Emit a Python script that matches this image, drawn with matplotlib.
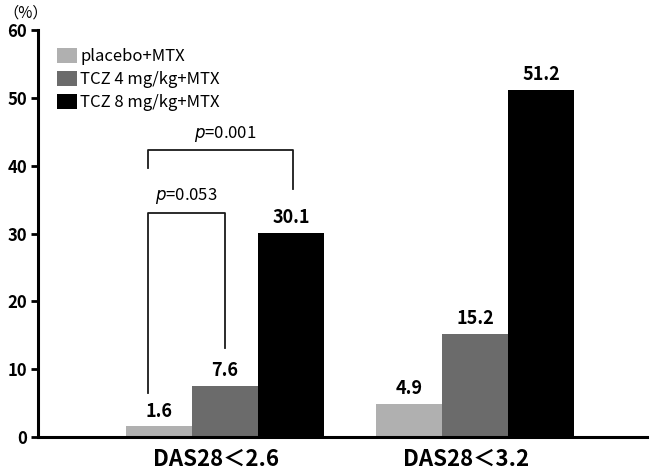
import matplotlib.pyplot as plt
import numpy as np

plt.rcParams['font.family'] = ['Noto Sans CJK JP', 'DejaVu Sans']

groups = ['DAS28＜2.6', 'DAS28＜3.2']
series = ['placebo+MTX', 'TCZ 4 mg/kg+MTX', 'TCZ 8 mg/kg+MTX']
values = [[1.6, 4.9], [7.6, 15.2], [30.1, 51.2]]
colors = ['#b0b0b0', '#6b6b6b', '#000000']
yticks = [0, 10, 20, 30, 40, 50, 60]

fig = plt.figure(figsize=(6.5, 4.71), dpi=100)
ax = fig.add_axes([0.0585, 0.072, 0.937, 0.864])

x = np.arange(len(groups))
w = 0.264
for i, (name, vals, c) in enumerate(zip(series, values, colors)):
    pos = x + (i - 1) * w
    ax.bar(pos, vals, width=w, color=c, label=name)
    for px, v in zip(pos, vals):
        ax.annotate(f'{v}', (px, v), xytext=(0, 4), textcoords='offset points',
                    ha='center', va='bottom', fontsize=13, fontweight='bold')

ax.set_xlim(-0.748, 1.688)
ax.set_ylim(0, 60)
ax.set_yticks(yticks)
ax.set_xticks(x - 0.035)
ax.set_xticklabels(groups, fontsize=16, fontweight='bold')
ax.tick_params(axis='x', length=0, pad=8)
ax.tick_params(axis='y', length=5, width=2, labelsize=12, pad=3)
for lab in ax.get_yticklabels():
    lab.set_fontweight('bold')
for s in ['top', 'right']:
    ax.spines[s].set_visible(False)
ax.spines['left'].set_linewidth(2.2)
ax.spines['bottom'].set_linewidth(2.2)

# significance brackets
ax.plot([-0.308, -0.308, 0.0, 0.0], [6.5, 33.0, 33.0, 13.1], color='#1a1a1a', lw=1.3)
ax.text(-0.154, 34.0, '$p$=0.053', ha='center', va='bottom', fontsize=12)
ax.plot([-0.308, -0.308, 0.272, 0.272], [39.7, 42.3, 42.3, 36.6], color='#1a1a1a', lw=1.3)
ax.text(0.0, 43.2, '$p$=0.001', ha='center', va='bottom', fontsize=12)

leg = ax.legend(loc='upper left', bbox_to_anchor=(0.015, 0.98), frameon=False,
                fontsize=12, handlelength=1.2, handleheight=1.0,
                handletextpad=0.2, labelspacing=0.35, borderaxespad=0.2)

fig.text(0.005, 0.99, '（%）', ha='left', va='top', fontsize=11)

fig.savefig('out.png', dpi=100)
